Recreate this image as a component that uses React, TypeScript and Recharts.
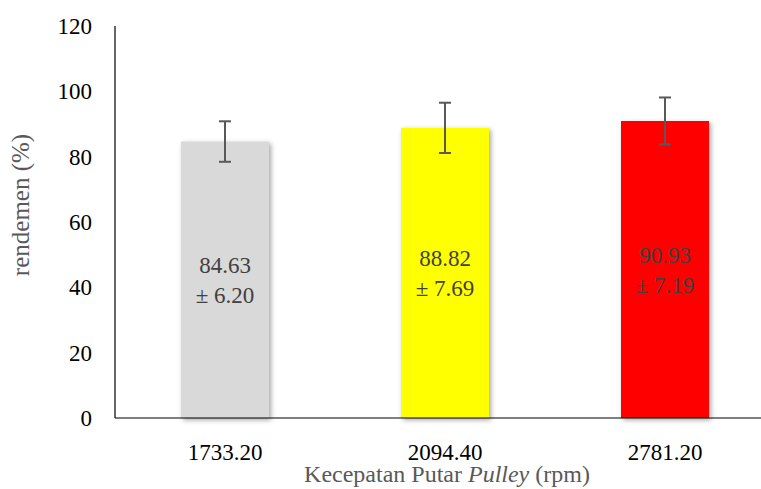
import { BarChart, Bar, XAxis, YAxis, Cell, ErrorBar, LabelList } from "recharts";

const speeds = ["1733.20", "2094.40", "2781.20"];
const rendemen = [84.63, 88.82, 90.93];
const stdev = [6.2, 7.69, 7.19];
const barColors = ["#d9d9d9", "#ffff00", "#ff0000"];
const yTicks = [0, 20, 40, 60, 80, 100, 120];

const data = speeds.map((speed, i) => ({
  speed,
  value: rendemen[i],
  sd: stdev[i],
}));

const FONT = "'Liberation Serif', 'Times New Roman', serif";

function BarValueLabel(props: any) {
  const { x, y, width, height, index } = props;
  const cx = x + width / 2;
  const cy = y + height / 2;
  return (
    <text x={cx} textAnchor="middle" fontFamily={FONT} fontSize={23} fill="#404040">
      <tspan x={cx} y={cy - 15} dy="0.35em">{rendemen[index].toFixed(2)}</tspan>
      <tspan x={cx} y={cy + 15} dy="0.35em">{`± ${stdev[index].toFixed(2)}`}</tspan>
    </text>
  );
}

function XTitle(props: any) {
  const { viewBox } = props;
  const cx = 447;
  return (
    <text x={cx} y={viewBox.y + 64} textAnchor="middle" fontFamily={FONT} fontSize={24} fill="#595959">
      Kecepatan Putar <tspan fontStyle="italic">Pulley</tspan> (rpm)
    </text>
  );
}

function YTitle() {
  return (
    <text
      x={0}
      y={0}
      transform="translate(29, 205) rotate(-90)"
      textAnchor="middle"
      fontFamily={FONT}
      fontSize={25}
      fill="#595959"
    >
      rendemen (%)
    </text>
  );
}

export default function App() {
  return (
    <div style={{ position: "absolute", left: 0, top: 0, width: 761, height: 489, overflow: "hidden", background: "#fff" }}>
      <BarChart
        width={790}
        height={489}
        data={data}
        margin={{ top: 26, right: 15, left: 0, bottom: 0 }}
        barSize={88}
      >
        <defs>
          <filter id="barShadow" x="-20%" y="-10%" width="140%" height="120%">
            <feDropShadow dx="2" dy="2" stdDeviation="2.5" floodColor="#000" floodOpacity="0.35" />
          </filter>
        </defs>
        <XAxis
          dataKey="speed"
          height={71}
          axisLine={{ stroke: "#000", strokeWidth: 1.2 }}
          tickLine={false}
          tickSize={0}
          tickMargin={26}
          tick={{ fontFamily: FONT, fontSize: 23, fill: "#000" }}
          label={<XTitle />}
        />
        <YAxis
          width={115}
          domain={[0, 120]}
          ticks={yTicks}
          axisLine={{ stroke: "#000", strokeWidth: 1.2 }}
          tickLine={false}
          tickSize={0}
          tickMargin={23}
          tick={{ fontFamily: FONT, fontSize: 23, fill: "#000" }}
          label={<YTitle />}
        />
        <Bar dataKey="value" isAnimationActive={false}>
          {data.map((d, i) => (
            <Cell key={d.speed} fill={barColors[i]} filter="url(#barShadow)" />
          ))}
          <ErrorBar dataKey="sd" width={6} stroke="#595959" strokeWidth={2} direction="y" />
          <LabelList dataKey="value" content={<BarValueLabel />} />
        </Bar>
      </BarChart>
    </div>
  );
}
